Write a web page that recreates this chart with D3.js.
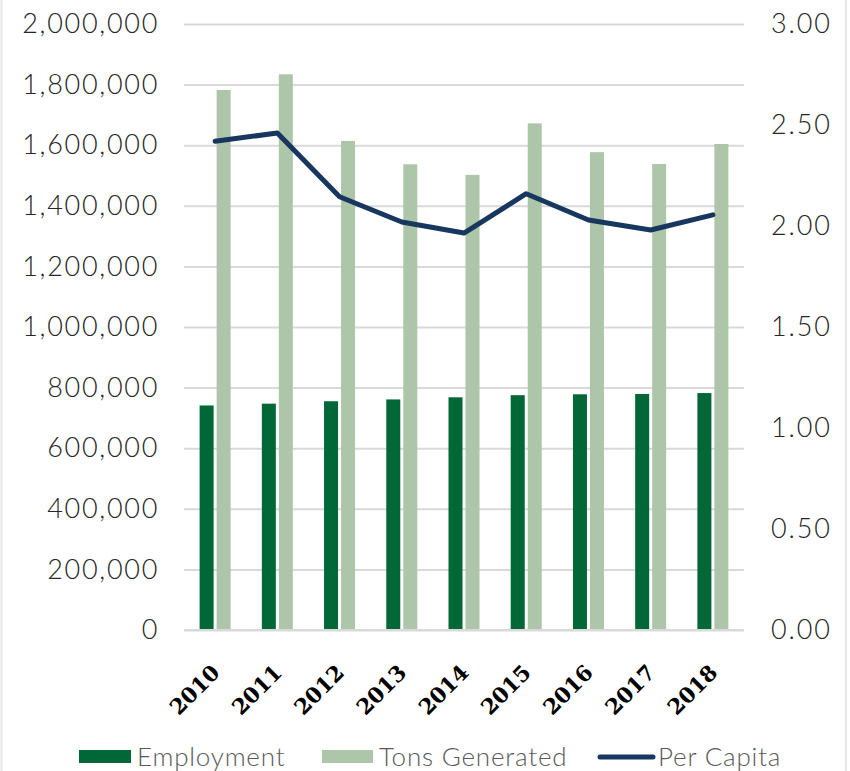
<!DOCTYPE html>
<html>
<head>
<meta charset="utf-8">
<script src="https://cdn.jsdelivr.net/npm/d3@7"></script>
<style>
  body { margin: 0; background: #fff; }
  svg { display: block; }
</style>
</head>
<body>
<div id="chart"></div>
<script>
// data
var years = ["2010","2011","2012","2013","2014","2015","2016","2017","2018"];
var employment = [741000, 747000, 755000, 761000, 768000, 775000, 778000, 779000, 782000];
var tonsGenerated = [1782000, 1834000, 1614000, 1537000, 1502000, 1672000, 1577000, 1538000, 1604000];
var perCapita = [2.42, 2.46, 2.145, 2.02, 1.965, 2.16, 2.03, 1.98, 2.055];
var leftTicks = [0, 200000, 400000, 600000, 800000, 1000000, 1200000, 1400000, 1600000, 1800000, 2000000];
var rightTicks = [0, 0.5, 1, 1.5, 2, 2.5, 3];

var svgWidth = 850;
var svgHeight = 771;
var margin = { top: 24, right: 106, bottom: 141, left: 184 };
var chartWidth = svgWidth - margin.left - margin.right;
var chartHeight = svgHeight - margin.top - margin.bottom;

var svg = d3.select("#chart")
  .append("svg")
  .attr("width", svgWidth)
  .attr("height", svgHeight);

// faint chart border on the sides
svg.append("line").attr("x1", 1.5).attr("x2", 1.5).attr("y1", 0).attr("y2", svgHeight)
  .attr("stroke", "#e6e6e6").attr("stroke-width", 2);
svg.append("line").attr("x1", 846).attr("x2", 846).attr("y1", 0).attr("y2", svgHeight)
  .attr("stroke", "#e6e6e6").attr("stroke-width", 2);

var chart = svg.append("g")
  .attr("transform", `translate(${margin.left}, ${margin.top})`);

var x0 = d3.scaleBand().domain(years).range([0, chartWidth]);
var yLeft = d3.scaleLinear().domain([0, 2000000]).range([chartHeight, 0]);
var yRight = d3.scaleLinear().domain([0, 3]).range([chartHeight, 0]);

var tickFont = "Lato, 'Open Sans', sans-serif";

// gridlines
var grid = chart.append("g")
  .call(d3.axisLeft(yLeft).tickValues(leftTicks).tickSize(-chartWidth).tickFormat(""));
grid.select(".domain").remove();
grid.selectAll("line").attr("stroke", "#d9d9d9").attr("stroke-width", 2);

// left axis labels
var leftAxis = chart.append("g")
  .call(d3.axisLeft(yLeft).tickValues(leftTicks).tickSize(0).tickPadding(25)
    .tickFormat(d3.format(",")));
leftAxis.select(".domain").remove();
leftAxis.selectAll("text")
  .attr("font-family", tickFont).attr("font-weight", 300)
  .attr("font-size", "27px").attr("letter-spacing", "1.7px").attr("fill", "#262626");

// right axis labels
var rightAxis = chart.append("g")
  .attr("transform", `translate(${chartWidth}, 0)`)
  .call(d3.axisRight(yRight).tickValues(rightTicks).tickSize(0).tickPadding(27)
    .tickFormat(d3.format(".2f")));
rightAxis.select(".domain").remove();
rightAxis.selectAll("text")
  .attr("font-family", tickFont).attr("font-weight", 300)
  .attr("font-size", "27px").attr("letter-spacing", "1.9px").attr("fill", "#262626");

// bars
var barW = 14;
var gap = 3;
chart.selectAll(".emp")
  .data(years)
  .enter()
  .append("rect")
  .attr("class", "emp")
  .attr("x", d => x0(d) + x0.bandwidth() / 2 - gap / 2 - barW)
  .attr("y", (d, i) => yLeft(employment[i]))
  .attr("width", barW)
  .attr("height", (d, i) => chartHeight - yLeft(employment[i]))
  .attr("fill", "#006837");

chart.selectAll(".tons")
  .data(years)
  .enter()
  .append("rect")
  .attr("class", "tons")
  .attr("x", d => x0(d) + x0.bandwidth() / 2 + gap / 2)
  .attr("y", (d, i) => yLeft(tonsGenerated[i]))
  .attr("width", barW)
  .attr("height", (d, i) => chartHeight - yLeft(tonsGenerated[i]))
  .attr("fill", "#adc6a9");

// baseline
chart.append("line")
  .attr("x1", 0).attr("x2", chartWidth)
  .attr("y1", chartHeight).attr("y2", chartHeight)
  .attr("stroke", "#d9d9d9").attr("stroke-width", 2);

// per capita line
var line = d3.line()
  .x((d, i) => x0(years[i]) + x0.bandwidth() / 2)
  .y(d => yRight(d));

chart.append("path")
  .datum(perCapita)
  .attr("d", line)
  .attr("fill", "none")
  .attr("stroke", "#17375e")
  .attr("stroke-width", 5)
  .attr("stroke-linejoin", "round")
  .attr("stroke-linecap", "round");

// year labels
chart.selectAll(".year")
  .data(years)
  .enter()
  .append("text")
  .attr("class", "year")
  .attr("transform", d => `translate(${x0(d) + x0.bandwidth() / 2 + 6}, ${chartHeight + 44}) rotate(-45)`)
  .attr("text-anchor", "end")
  .attr("font-family", "'DejaVu Serif', serif")
  .attr("font-weight", "bold")
  .attr("font-size", "21.5px")
  .attr("fill", "#000")
  .text(d => d);

// legend
var legendFont = "Lato, 'Open Sans', sans-serif";
var legend = svg.append("g");
legend.append("rect").attr("x", 79).attr("y", 750).attr("width", 52).attr("height", 13).attr("fill", "#006837");
legend.append("text").attr("x", 137).attr("y", 766).text("Employment");
legend.append("rect").attr("x", 322).attr("y", 750).attr("width", 51).attr("height", 13).attr("fill", "#adc6a9");
legend.append("text").attr("x", 379).attr("y", 766).text("Tons Generated");
legend.append("line").attr("x1", 600).attr("x2", 653).attr("y1", 757).attr("y2", 757)
  .attr("stroke", "#17375e").attr("stroke-width", 5).attr("stroke-linecap", "round");
legend.append("text").attr("x", 658).attr("y", 766).text("Per Capita");
legend.selectAll("text")
  .attr("font-family", legendFont).attr("font-weight", 300)
  .attr("font-size", "26px").attr("letter-spacing", "0.8px").attr("fill", "#595959");
</script>
</body>
</html>
